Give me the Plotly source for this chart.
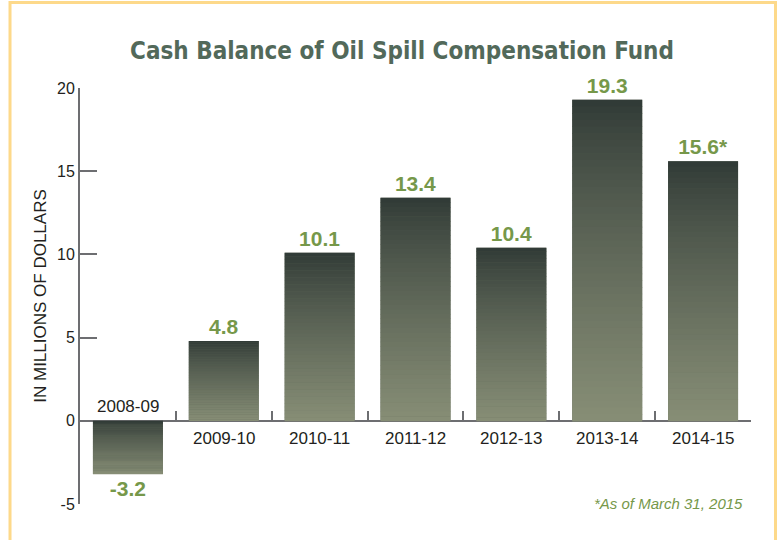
import plotly.graph_objects as go

categories = ["2008-09", "2009-10", "2010-11", "2011-12", "2012-13", "2013-14", "2014-15"]
values = [-3.2, 4.8, 10.1, 13.4, 10.4, 19.3, 15.6]
value_labels = ["-3.2", "4.8", "10.1", "13.4", "10.4", "19.3", "15.6*"]
y_ticks = [-5, 0, 5, 10, 15, 20]
y_tick_labels = ["-5", "0", "5", "10", "15", "20"]

TOP = (0x2f, 0x39, 0x35)
BOT = (0x87, 0x8e, 0x76)
GREEN = "#76984a"
AXIS = "#6d6e71"
TXT = "#231f20"
BAR_W = 0.73
SANS = "Liberation Sans, Arial, Helvetica, sans-serif"

idx = list(range(len(categories)))

fig = go.Figure()
fig.add_trace(go.Bar(
    x=idx, y=values, width=BAR_W,
    marker=dict(color="#5f6858", line=dict(width=0)),
    text=value_labels, textposition="outside",
    textfont=dict(family=SANS, size=21, color=GREEN, weight="bold"),
    cliponaxis=False, hoverinfo="skip",
))

# vertical gradient over each bar (dark at top edge, light at bottom edge)
shapes = []
N = 48
for i, v in zip(idx, values):
    top = max(v, 0.0)
    bot = min(v, 0.0)
    h = top - bot
    for k in range(N):
        t = (k + 0.5) / N
        tt = t ** 0.8
        c = tuple(int(round(TOP[j] + (BOT[j] - TOP[j]) * tt)) for j in range(3))
        y1 = top - h * k / N
        y0 = top - h * (k + 1) / N - h * 0.002
        shapes.append(dict(
            type="rect", xref="x", yref="y", layer="above",
            x0=i - BAR_W / 2, x1=i + BAR_W / 2, y0=y0, y1=y1,
            fillcolor="rgb(%d,%d,%d)" % c, line=dict(width=0),
        ))

# outer decorative frame
shapes.append(dict(type="rect", xref="paper", yref="paper", layer="below",
                   x0=-0.1043, x1=1.0365, y0=-0.3, y1=1.2055,
                   line=dict(color="#fdd98a", width=3), fillcolor="rgba(0,0,0,0)"))

annotations = []
for i, v, c in zip(idx, values, categories):
    if v >= 0:
        annotations.append(dict(x=i, y=0, xref="x", yref="y", text=c, showarrow=False,
                                yanchor="top", yshift=-6,
                                font=dict(family=SANS, size=17, color=TXT)))
    else:
        annotations.append(dict(x=i, y=0, xref="x", yref="y", text=c, showarrow=False,
                                yanchor="bottom", yshift=3,
                                font=dict(family=SANS, size=17, color=TXT)))

annotations.append(dict(x=0.991, y=0.002, xref="paper", yref="paper", text="<i>*As of March 31, 2015</i>",
                        showarrow=False, xanchor="right", yanchor="middle",
                        font=dict(family=SANS, size=15, color=GREEN)))

fig.update_layout(
    width=781, height=540,
    margin=dict(l=80, r=30, t=88, b=36),
    paper_bgcolor="white", plot_bgcolor="white",
    showlegend=False,
    title=dict(text="<b>Cash Balance of Oil Spill Compensation Fund</b>",
               x=0.5147, xanchor="center", y=0.907, yanchor="middle",
               font=dict(family="DejaVu Sans Condensed, Liberation Sans Narrow, sans-serif",
                         size=24, color="#52695a")),
    xaxis=dict(
        range=[-0.5, 6.5], showgrid=False, zeroline=False,
        anchor="free", position=0.2,
        showline=True, linecolor=AXIS, linewidth=2,
        tickmode="array", tickvals=[i + 0.5 for i in idx], ticktext=["" for _ in idx],
        ticks="inside", ticklen=9, tickwidth=2, tickcolor=AXIS,
        showticklabels=False, fixedrange=True,
    ),
    yaxis=dict(
        range=[-5, 20], showgrid=False, zeroline=False,
        showline=True, linecolor=AXIS, linewidth=2,
        tickmode="array", tickvals=y_ticks, ticktext=y_tick_labels,
        ticks="inside", ticklen=17, tickwidth=2, tickcolor=AXIS,
        tickfont=dict(family=SANS, size=16, color=TXT),
        title=dict(text="IN MILLIONS OF DOLLARS", standoff=6,
                   font=dict(family=SANS, size=17, color=TXT)),
        fixedrange=True,
    ),
    shapes=shapes,
    annotations=annotations,
)

fig.write_html("out.html", config={"displayModeBar": False, "staticPlot": True},
               post_script="document.body.style.margin='0';document.body.style.overflow='hidden';")
